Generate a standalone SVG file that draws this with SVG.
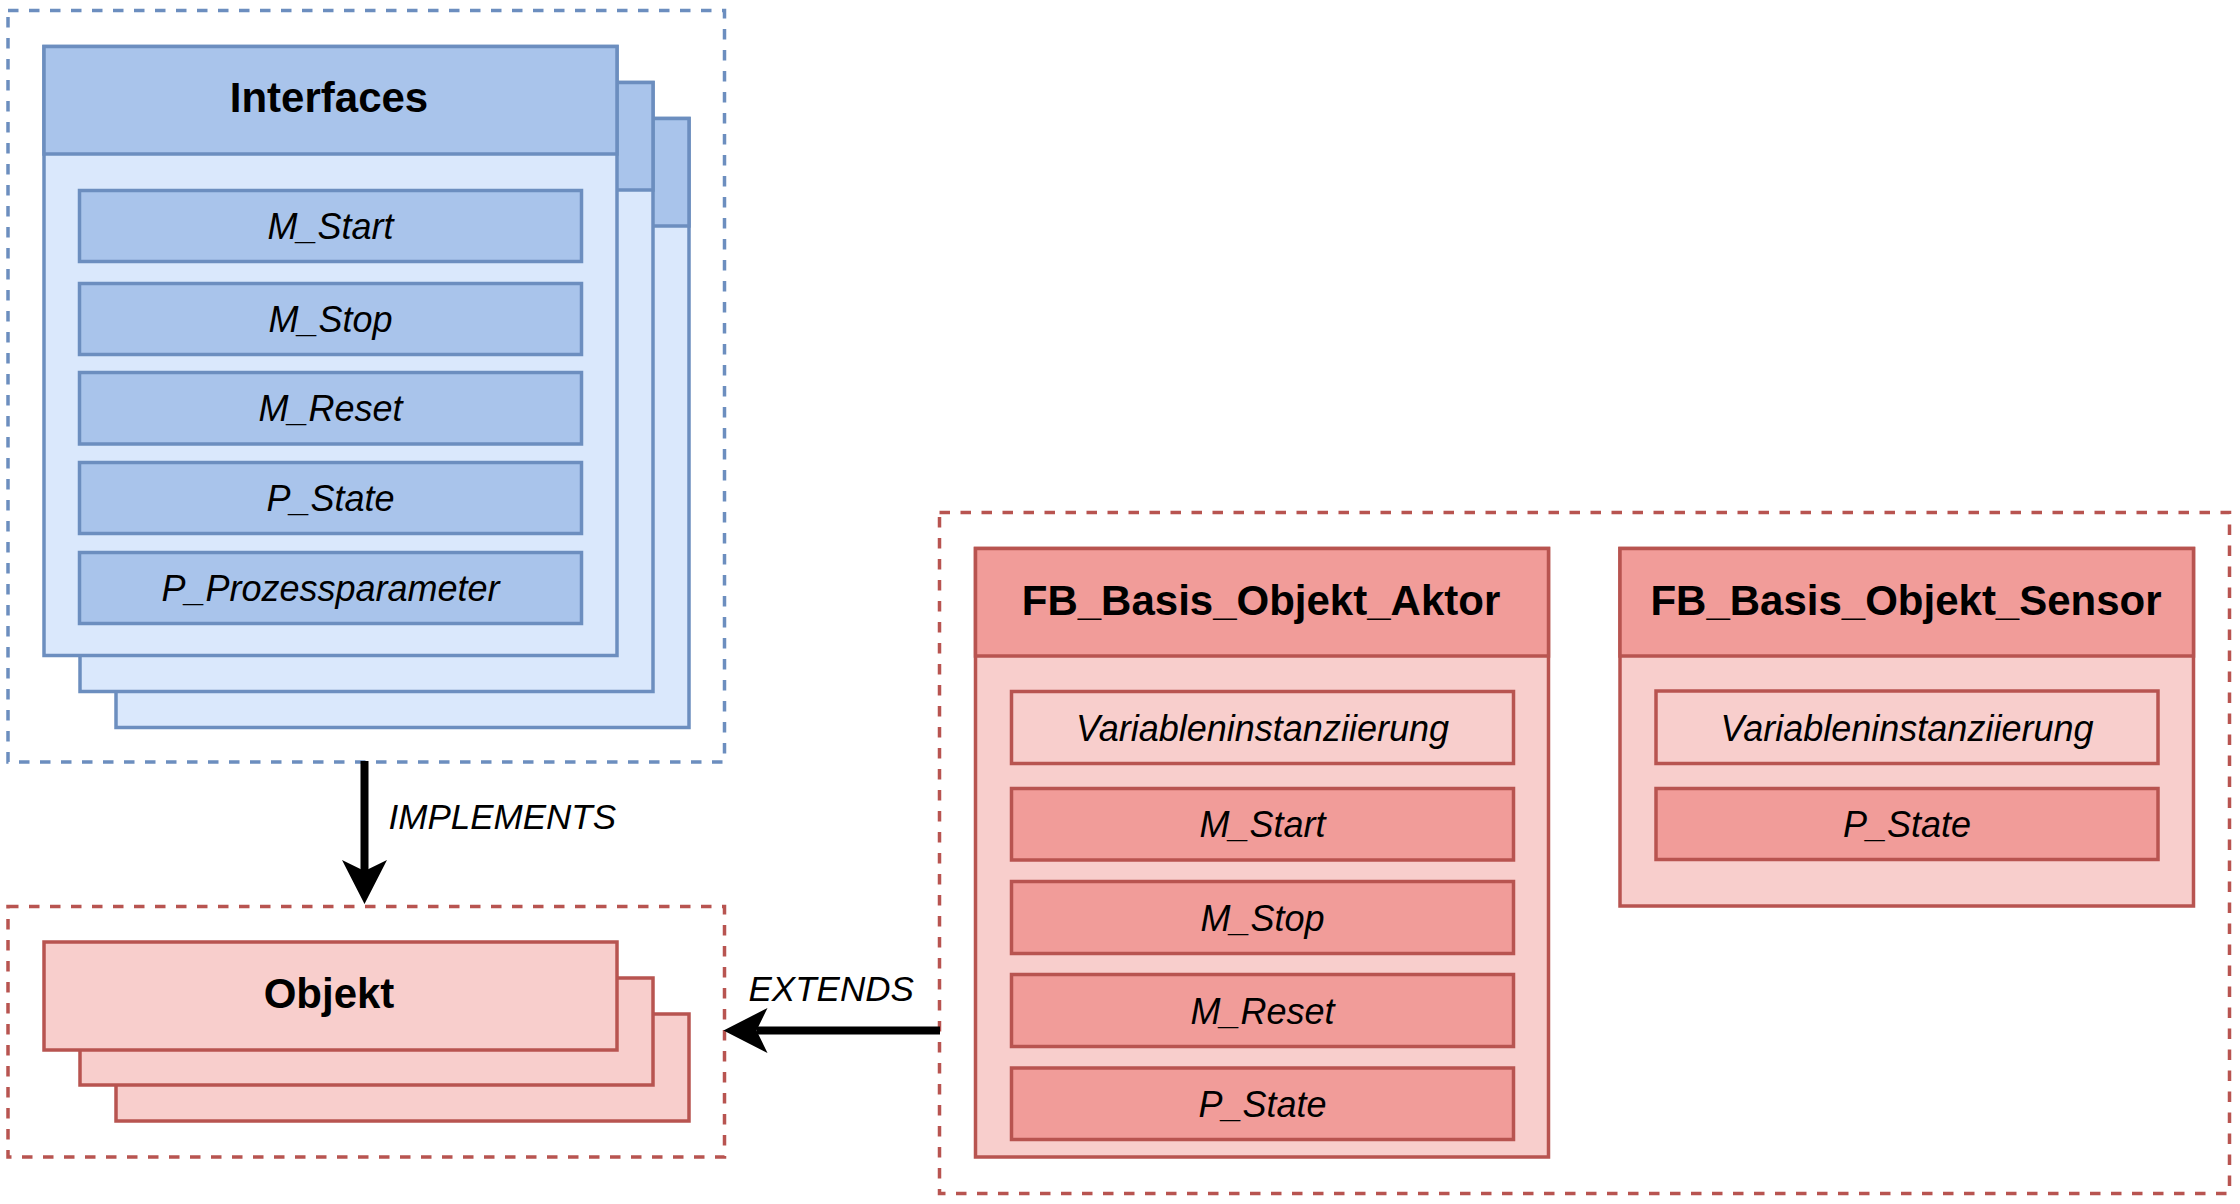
<svg xmlns="http://www.w3.org/2000/svg" width="2240" height="1204" viewBox="0 0 2240 1204">
  <style>
    text { font-family: "Liberation Sans", Arial, Helvetica, sans-serif; fill: #000; text-anchor: middle; }
    .title { font-size: 42px; font-weight: bold; }
    .item { font-size: 36px; font-style: italic; }
    .lbl { font-size: 35px; font-style: italic; text-anchor: start; }
    .bStroke { stroke: #6C8EBF; stroke-width: 3.5; }
    .rStroke { stroke: #B85450; stroke-width: 3.5; }
    .bHead { fill: #A9C4EB; }
    .bBody { fill: #DAE8FC; }
    .rHead { fill: #F19C99; }
    .rBody { fill: #F8CECC; }
    .dashB { fill: none; stroke: #6C8EBF; stroke-width: 3.5; stroke-dasharray: 10.5 10.5; }
    .dashR { fill: none; stroke: #B85450; stroke-width: 3.5; stroke-dasharray: 10.5 10.5; }
    .edge { fill: none; stroke: #000; stroke-width: 8; }
  </style>
  <defs>
    <marker id="classic" markerUnits="userSpaceOnUse" viewBox="-12 -24 48 48" markerWidth="48" markerHeight="48" refX="0" refY="0" orient="auto">
      <path d="M33,0 L-11,-22.5 L0,0 L-11,22.5 Z" fill="#000"/>
    </marker>
  </defs>
  <rect width="2240" height="1204" fill="#fff"/>

  <g id="interfaces-container">
    <rect class="dashB" x="8" y="10.5" width="716.5" height="751.5"/>
  </g>

  <g id="interfaces">
    <rect class="bBody bStroke" x="116" y="118.5" width="573" height="609"/>
    <rect class="bHead bStroke" x="116" y="118.5" width="573" height="107.5"/>
    <rect class="bBody bStroke" x="80" y="82.5" width="573" height="609"/>
    <rect class="bHead bStroke" x="80" y="82.5" width="573" height="107.5"/>
    <rect class="bBody bStroke" x="44" y="46.5" width="573" height="609"/>
    <rect class="bHead bStroke" x="44" y="46.5" width="573" height="107.5"/>
    <text class="title" x="329" y="112">Interfaces</text>
  </g>
  <g id="if-m-start">
    <rect class="bHead bStroke" x="79.5" y="190.5" width="502" height="71"/>
    <text class="item" x="330.5" y="239">M_Start</text>
  </g>
  <g id="if-m-stop">
    <rect class="bHead bStroke" x="79.5" y="283.5" width="502" height="71"/>
    <text class="item" x="330.5" y="332">M_Stop</text>
  </g>
  <g id="if-m-reset">
    <rect class="bHead bStroke" x="79.5" y="372.5" width="502" height="71.5"/>
    <text class="item" x="330.5" y="421">M_Reset</text>
  </g>
  <g id="if-p-state">
    <rect class="bHead bStroke" x="79.5" y="462.5" width="502" height="71"/>
    <text class="item" x="330.5" y="511">P_State</text>
  </g>
  <g id="if-p-prozess">
    <rect class="bHead bStroke" x="79.5" y="552.5" width="502" height="71"/>
    <text class="item" x="330.5" y="601">P_Prozessparameter</text>
  </g>

  <g id="objekt-container">
    <rect class="dashR" x="8" y="906.5" width="716.5" height="250.5"/>
  </g>
  <g id="objekt">
    <rect class="rBody rStroke" x="116" y="1014" width="573" height="107"/>
    <rect class="rBody rStroke" x="80" y="978" width="573" height="107"/>
    <rect class="rBody rStroke" x="44" y="942" width="573" height="108"/>
    <text class="title" x="329" y="1008">Objekt</text>
  </g>

  <g id="fb-container">
    <rect class="dashR" x="939.5" y="512.5" width="1290" height="681"/>
  </g>

  <g id="fb-aktor">
    <rect class="rBody rStroke" x="975.5" y="548.5" width="573" height="608.5"/>
    <rect class="rHead rStroke" x="975.5" y="548.5" width="573" height="107.5"/>
    <text class="title" x="1261" y="615">FB_Basis_Objekt_Aktor</text>
  </g>
  <g id="aktor-var">
    <rect class="rBody rStroke" x="1011.5" y="691.5" width="502" height="72"/>
    <text class="item" x="1262.5" y="740.5">Variableninstanziierung</text>
  </g>
  <g id="aktor-m-start">
    <rect class="rHead rStroke" x="1011.5" y="788.5" width="502" height="71.5"/>
    <text class="item" x="1262.5" y="837">M_Start</text>
  </g>
  <g id="aktor-m-stop">
    <rect class="rHead rStroke" x="1011.5" y="881.5" width="502" height="72"/>
    <text class="item" x="1262.5" y="930.5">M_Stop</text>
  </g>
  <g id="aktor-m-reset">
    <rect class="rHead rStroke" x="1011.5" y="974.5" width="502" height="72"/>
    <text class="item" x="1262.5" y="1023.5">M_Reset</text>
  </g>
  <g id="aktor-p-state">
    <rect class="rHead rStroke" x="1011.5" y="1068" width="502" height="71.5"/>
    <text class="item" x="1262.5" y="1117">P_State</text>
  </g>

  <g id="fb-sensor">
    <rect class="rBody rStroke" x="1620" y="548.5" width="573.5" height="357.5"/>
    <rect class="rHead rStroke" x="1620" y="548.5" width="573.5" height="107.5"/>
    <text class="title" x="1906" y="615">FB_Basis_Objekt_Sensor</text>
  </g>
  <g id="sensor-var">
    <rect class="rBody rStroke" x="1656" y="691" width="502" height="72.5"/>
    <text class="item" x="1907" y="740.5">Variableninstanziierung</text>
  </g>
  <g id="sensor-p-state">
    <rect class="rHead rStroke" x="1656" y="788.5" width="502" height="71"/>
    <text class="item" x="1907" y="837">P_State</text>
  </g>

  <g id="connectors">
    <line class="edge" x1="364.5" y1="761" x2="364.5" y2="871" marker-end="url(#classic)"/>
    <text class="lbl" x="388.5" y="829">IMPLEMENTS</text>
    <line class="edge" x1="940" y1="1030.5" x2="756.5" y2="1030.5" marker-end="url(#classic)"/>
    <text class="lbl" x="748.5" y="1001">EXTENDS</text>
  </g>
</svg>
